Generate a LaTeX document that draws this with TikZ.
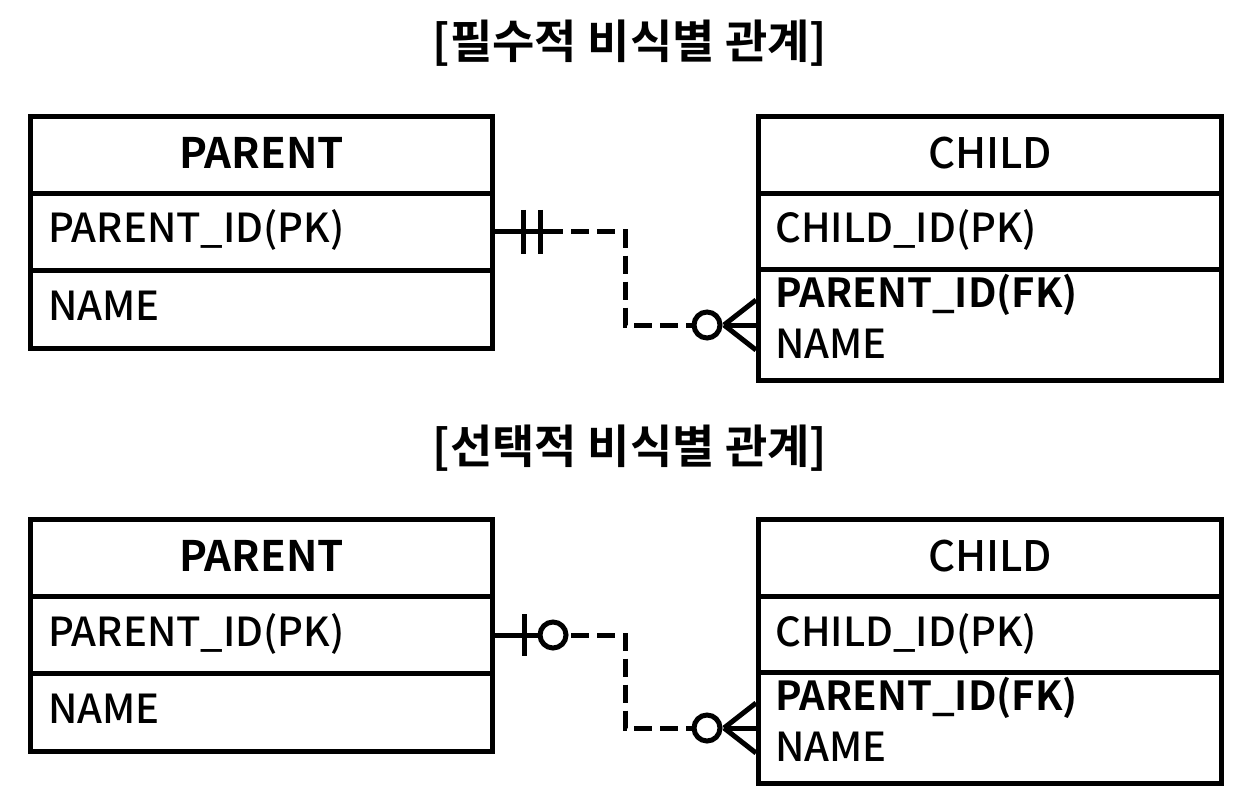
\documentclass[tikz,border=0pt]{standalone}
\usepackage{fontspec}
\setmainfont{Noto Sans CJK KR}[UprightFont=* Medium,BoldFont=* Bold]
\usetikzlibrary{calc}
\begin{document}
\begin{tikzpicture}[x=1pt,y=-1pt,
  row/.style={draw,line width=5pt,minimum width=462pt,minimum height=77pt,inner sep=0pt,anchor=north west},
  lbl/.style={anchor=base west,inner sep=0pt,font=\fontsize{40}{40}\selectfont},
  hdr/.style={inner sep=0pt,font=\fontsize{42}{42}\selectfont},
  ttl/.style={inner sep=0pt,font=\fontsize{46}{46}\selectfont\bfseries},
  conn/.style={line width=5pt},
  dconn/.style={line width=5pt,dash pattern=on 18pt off 8pt}]
\useasboundingbox (0,0) rectangle (1246,810);
% titles
\node[ttl] (t1) at (630,43) {[필수적 비식별 관계]};
\node[ttl] (t2) at (630,448) {[선택적 비식별 관계]};
\foreach \s/\dy in {1/0,2/403}{
  % parent
  \node[row] (p\s h) at (28,114+\dy) {};
  \node[row] (p\s id) at (28,191+\dy) {};
  \node[row,minimum height=78pt] (p\s n) at (28,268+\dy) {};
  \node[hdr,font=\fontsize{42}{42}\selectfont\bfseries] (p\s ht) at ($(p\s h.center)+(0,-2)$) {PARENT};
  \node[lbl] (p\s idt) at (48,243+\dy) {PARENT\_ID(PK)};
  \node[lbl] (p\s nt) at (48,320+\dy) {NAME};
  % child
  \node[row,minimum width=463pt] (c\s h) at (756,114+\dy) {};
  \node[row,minimum width=463pt,minimum height=76pt] (c\s id) at (756,191+\dy) {};
  \node[row,minimum width=463pt,minimum height=111pt] (c\s fk) at (756,267+\dy) {};
  \node[hdr] (c\s ht) at ($(c\s h.center)+(0,-2)$) {CHILD};
  \node[lbl] (c\s idt) at (775,243+\dy) {CHILD\_ID(PK)};
  \node[lbl,font=\fontsize{40}{40}\selectfont\bfseries] (c\s fkt) at (775,307+\dy) {PARENT\_ID(FK)};
  \node[lbl] (c\s nt) at (775,358+\dy) {NAME};
  % crow's foot + zero at child
  \coordinate (cf\s) at ($(c\s fk.west)+(-32,0)$);
  \draw[conn] (cf\s) -- (c\s fk.west);
  \draw[conn] (cf\s) -- ($(c\s fk.west)+(0,-25)$);
  \draw[conn] (cf\s) -- ($(c\s fk.west)+(0,25)$);
  \draw[conn,fill=white] ($(c\s fk.west)+(-49,0)$) circle (13pt);
  \draw[dconn] ($(p\s id.east)+(50,0)$) -| ($(c\s fk.west)!0.5!(p\s id.east)$) |- ($(c\s fk.west)+(-62,0)$);
}
% top: one and only one
\draw[conn] (p1id.east) -- ++(50,0);
\draw[conn] ($(p1id.east)+(28,-22)$) -- ++(0,44);
\draw[conn] ($(p1id.east)+(45,-22)$) -- ++(0,44);
% bottom: zero or one
\draw[conn] (p2id.east) -- ++(45,0);
\draw[conn] ($(p2id.east)+(29,-21)$) -- ++(0,42);
\draw[conn,fill=white] ($(p2id.east)+(58,0)$) circle (13pt);
\end{tikzpicture}
\end{document}
